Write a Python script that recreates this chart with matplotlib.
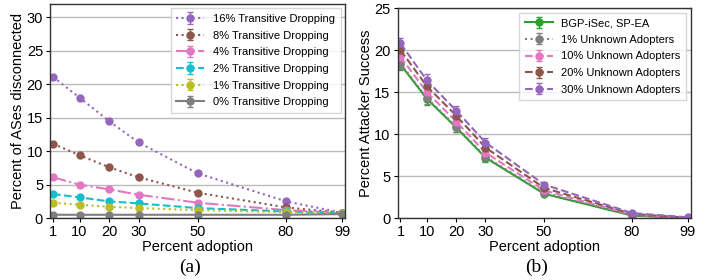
import matplotlib
matplotlib.use("Agg")
import matplotlib.pyplot as plt

adoption = [1, 10, 20, 30, 50, 80, 99]
xtick_labels = ["1", "10", "20", "30", "50", "80", "99"]

# Panel (a)
td16 = [21.1, 18.0, 14.5, 11.3, 6.7, 2.5, 0.8]
td8 = [11.1, 9.4, 7.6, 6.1, 3.8, 1.6, 0.8]
td4 = [6.1, 5.0, 4.3, 3.5, 2.3, 1.2, 0.8]
td2 = [3.6, 3.1, 2.5, 2.2, 1.5, 1.0, 0.7]
td1 = [2.3, 2.0, 1.7, 1.5, 1.2, 0.9, 0.7]
td0 = [0.5, 0.5, 0.5, 0.5, 0.5, 0.5, 0.6]
err_a = [0.15, 0.15, 0.12, 0.1, 0.08, 0.05, 0.03]

# Panel (b)
bgp_isec = [18.3, 14.2, 10.8, 7.2, 2.9, 0.3, 0.0]
unk1 = [18.4, 14.3, 10.9, 7.3, 3.0, 0.35, 0.0]
unk10 = [19.2, 15.0, 11.5, 7.8, 3.3, 0.4, 0.05]
unk20 = [20.0, 15.7, 12.2, 8.4, 3.6, 0.5, 0.05]
unk30 = [20.8, 16.4, 12.8, 9.0, 4.0, 0.6, 0.1]
err_b = [0.7, 0.7, 0.6, 0.5, 0.3, 0.1, 0.02]

plt.rcParams['font.family'] = ['Liberation Sans', 'DejaVu Sans']

fig = plt.figure(figsize=(7.15, 2.8), dpi=100)
axa = fig.add_axes([0.070, 0.221, 0.4125, 0.765])
axb = fig.add_axes([0.556, 0.221, 0.410, 0.750])

series_a = [
    (td16, "16% Transitive Dropping", "tab:purple", ":"),
    (td8, "8% Transitive Dropping", "tab:brown", ":"),
    (td4, "4% Transitive Dropping", "tab:pink", "-."),
    (td2, "2% Transitive Dropping", "tab:cyan", "--"),
    (td1, "1% Transitive Dropping", "tab:olive", ":"),
    (td0, "0% Transitive Dropping", "tab:gray", "-"),
]
for ys, lab, col, ls in series_a:
    axa.errorbar(adoption, ys, yerr=err_a, label=lab, color=col, ls=ls,
                 lw=1.5, marker='o', ms=5, capsize=2, elinewidth=1)

series_b = [
    (bgp_isec, "BGP-iSec, SP-EA", "tab:green", "-"),
    (unk1, "1% Unknown Adopters", "tab:gray", ":"),
    (unk10, "10% Unknown Adopters", "tab:pink", "--"),
    (unk20, "20% Unknown Adopters", "tab:brown", "--"),
    (unk30, "30% Unknown Adopters", "tab:purple", "--"),
]
for ys, lab, col, ls in series_b:
    axb.errorbar(adoption, ys, yerr=err_b, label=lab, color=col, ls=ls,
                 lw=1.5, marker='o', ms=5, capsize=2, elinewidth=1)

for ax, ymax, ylab in [(axa, 32, "Percent of ASes disconnected"),
                       (axb, 25, "Percent Attacker Success")]:
    ax.set_xlim(0, 100)
    ax.set_ylim(0, ymax)
    ax.set_xticks(adoption)
    ax.set_xticklabels(xtick_labels)
    ax.set_yticks(range(0, ymax + 1, 5))
    ax.tick_params(labelsize=10.5, length=3, pad=2)
    ax.grid(axis='y', color='#bbbbbb', lw=1)
    ax.set_axisbelow(True)
    ax.set_xlabel("Percent adoption", fontsize=10.5, labelpad=1)
    ax.set_ylabel(ylab, fontsize=10.5, labelpad=1)
    for s in ax.spines.values():
        s.set_color('#333333')
        s.set_linewidth(1.0)
    leg = ax.legend(loc='upper right', fontsize=8, frameon=True,
                    fancybox=False, handlelength=2.5, borderpad=0.5,
                    labelspacing=0.6, borderaxespad=0.4)
    leg.get_frame().set_edgecolor('#cccccc')

fig.text(0.266, 0.045, "(a)", fontsize=14, ha='center', va='center',
         family='Liberation Serif')
fig.text(0.751, 0.045, "(b)", fontsize=14, ha='center', va='center',
         family='Liberation Serif')

fig.savefig("out.png", dpi=100)
